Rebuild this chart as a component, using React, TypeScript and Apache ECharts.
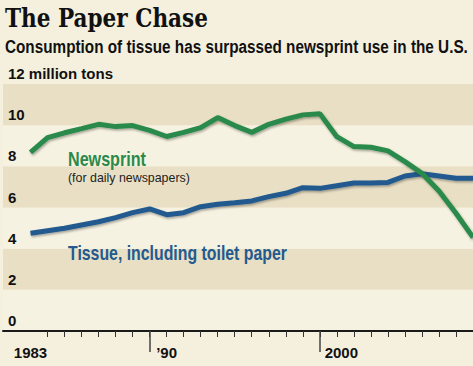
import React, { useEffect, useRef } from "react";
import * as echarts from "echarts";

const years = [1983, 1984, 1985, 1986, 1987, 1988, 1989, 1990, 1991, 1992, 1993, 1994, 1995, 1996, 1997, 1998, 1999, 2000, 2001, 2002, 2003, 2004, 2005, 2006, 2007, 2008, 2009];
const newsprint = [8.68, 9.39, 9.63, 9.83, 10.04, 9.93, 9.98, 9.75, 9.45, 9.65, 9.88, 10.37, 9.98, 9.65, 10.04, 10.29, 10.5, 10.56, 9.44, 8.96, 8.93, 8.75, 8.23, 7.66, 6.8, 5.72, 4.55];
const tissue = [4.75, 4.87, 4.99, 5.15, 5.31, 5.51, 5.75, 5.93, 5.65, 5.75, 6.04, 6.16, 6.23, 6.32, 6.53, 6.69, 6.96, 6.93, 7.06, 7.19, 7.19, 7.22, 7.53, 7.64, 7.53, 7.42, 7.42];
const xLabelYears = [1983, 1990, 2000];
const xLabelTexts = ["1983", "\u201990", "2000"];
const majorTickYears = [1990, 2000];
const minorTickYears = years.slice(1);

const SANS = "'Liberation Sans', Arial, sans-serif";
const SERIF = "'DejaVu Serif Condensed', 'DejaVu Serif', serif";
const GREEN = "#2a8a4b";
const BLUE = "#235a8f";

function fitScale(text: string, font: string, target: number): number {
  const c = document.createElement("canvas").getContext("2d");
  if (!c) return 1;
  c.font = font;
  const w = c.measureText(text).width;
  return w > 0 ? target / w : 1;
}

export default function App() {
  const ref = useRef<HTMLDivElement>(null);
  useEffect(() => {
    if (!ref.current) return;
    const chart = echarts.init(ref.current, null, { renderer: "svg" });
    const lineShadow = {
      shadowColor: "rgba(0,0,0,0.35)",
      shadowBlur: 2,
      shadowOffsetX: 1,
      shadowOffsetY: 1.5,
    };
    const fitted = (text: string, x: number, y: number, size: number, weight: string, family: string, fill: string, width: number) => ({
      type: "text",
      x,
      y,
      z: 100,
      scaleX: fitScale(text, `${weight} ${size}px ${family}`, width),
      style: { text, fontFamily: family, fontWeight: weight, fontSize: size, fill, verticalAlign: "top", align: "left" },
    });
    const labelRich = (pad: number) => ({ fontFamily: SANS, fontWeight: "bold", fontSize: 15, color: "#111", padding: [0, 0, 0, pad] });
    chart.setOption({
      animation: false,
      backgroundColor: "#f5f0de",
      grid: { left: 3, top: 84, width: 478.6, height: 247, containLabel: false },
      xAxis: [
        {
          type: "value",
          min: 1981.385,
          max: 2009,
          position: "bottom",
          axisLine: { onZero: false, lineStyle: { color: "#1a1a1a", width: 2 } },
          axisTick: { show: true, length: 6, customValues: minorTickYears, lineStyle: { color: "#333", width: 1 } },
          splitLine: { show: false },
          axisLabel: {
            show: true,
            customValues: xLabelYears,
            margin: 14,
            formatter: (v: number) => {
              const i = xLabelYears.indexOf(Math.round(v));
              if (i < 0) return "";
              const key = i === 0 ? "a" : i === 1 ? "b" : "c";
              return "{" + key + "|" + xLabelTexts[i] + "}";
            },
            rich: { a: labelRich(0), b: labelRich(34), c: labelRich(43) },
          },
        },
        {
          type: "value",
          min: 1981.385,
          max: 2009,
          position: "top",
          offset: -247,
          axisLine: { show: false, onZero: false },
          axisTick: { show: true, inside: true, length: 21, customValues: majorTickYears, lineStyle: { color: "#444", width: 1.5 } },
          axisLabel: { show: false },
          splitLine: { show: false },
        },
      ],
      yAxis: {
        type: "value",
        min: 0,
        max: 12,
        interval: 2,
        axisLine: { show: false },
        axisTick: { show: false },
        splitLine: { show: false },
        splitArea: { show: true, areaStyle: { color: ["#f6f2e1", "#e8dfc4"] } },
        axisLabel: {
          inside: true,
          margin: 5,
          align: "left",
          verticalAlign: "bottom",
          padding: [0, 0, 3, 0],
          fontFamily: SANS,
          fontWeight: "bold",
          fontSize: 15,
          color: "#111",
          formatter: (v: number) => (v === 12 ? "12 million tons" : String(v)),
        },
      },
      series: [
        {
          type: "line",
          name: "Newsprint",
          data: years.map((y, i) => [y, newsprint[i]]),
          showSymbol: false,
          symbol: "none",
          lineStyle: { color: GREEN, width: 5, ...lineShadow },
          z: 3,
        },
        {
          type: "line",
          name: "Tissue",
          data: years.map((y, i) => [y, tissue[i]]),
          showSymbol: false,
          symbol: "none",
          lineStyle: { color: BLUE, width: 5, ...lineShadow },
          z: 2,
        },
      ],
      graphic: [
        fitted("The Paper Chase", 5, 5, 26, "bold", SERIF, "#111", 203),
        fitted("Consumption of tissue has surpassed newsprint use in the U.S.", 5, 37, 19, "bold", SANS, "#111", 463),
        fitted("Newsprint", 68, 148, 21, "bold", SANS, GREEN, 78),
        fitted("(for daily newspapers)", 68, 171, 13, "normal", SANS, "#222", 122),
        fitted("Tissue, including toilet paper", 68, 243, 20, "bold", SANS, BLUE, 219),
      ],
    });
    return () => chart.dispose();
  }, []);
  return (
    <div style={{ position: "fixed", left: 0, top: 0, width: 473, height: 366, overflow: "hidden", background: "#f5f0de" }}>
      <div ref={ref} style={{ width: 473, height: 366 }} />
    </div>
  );
}
